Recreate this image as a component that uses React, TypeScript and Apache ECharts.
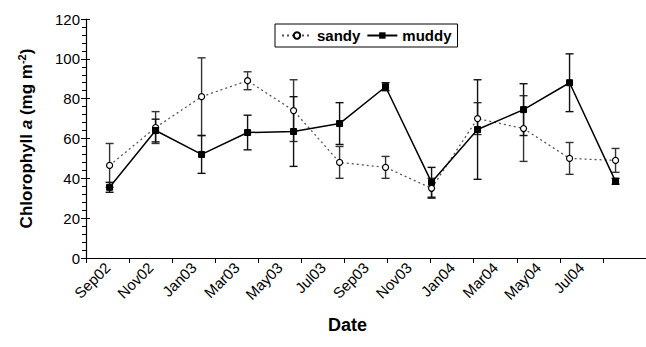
import React, { useEffect, useRef } from "react";
import * as echarts from "echarts";

const dates = ["Sep02", "Nov02", "Jan03", "Mar03", "May03", "Jul03", "Sep03", "Nov03", "Jan04", "Mar04", "May04", "Jul04"];
const sandyMean = [46.5, 65.5, 81, 89, 74, 48, 45.5, 35, 70, 65, 50, 49];
const sandyErr = [11, 8, 19.5, 4.5, 15.5, 8, 5.5, 5, 8, 16.5, 8, 6];
const muddyMean = [35.5, 64, 52, 63, 63.5, 67.5, 86, 38, 64.5, 74.5, 88, 38.5];
const muddyErr = [2.5, 5.7, 9.5, 8.7, 17.5, 10.5, 2, 7.5, 25, 13, 14.5, 1.5];
const yTicks = { min: 0, max: 120, interval: 20 };

const FONT = "'Liberation Sans', Arial, sans-serif";

export default function App() {
  const ref = useRef<HTMLDivElement>(null);
  useEffect(() => {
    if (!ref.current) return;
    const chart = echarts.init(ref.current, null, { renderer: "svg" });
    const sandyPts = sandyMean.map((v, i) => [i, v]);
    const muddyPts = muddyMean.map((v, i) => [i, v]);
    const sandyBars = sandyMean.map((v, i) => [i, v - sandyErr[i], v + sandyErr[i]]);
    const muddyBars = muddyMean.map((v, i) => [i, v - muddyErr[i], v + muddyErr[i]]);
    const errRender = (color: string) => (params: any, api: any) => {
      const x = api.value(0);
      const lo = api.coord([x, api.value(1)]);
      const hi = api.coord([x, api.value(2)]);
      const cw = 4;
      const style = { stroke: color, lineWidth: 1.4 };
      return {
        type: "group",
        children: [
          { type: "line", shape: { x1: hi[0], y1: hi[1], x2: lo[0], y2: lo[1] }, style },
          { type: "line", shape: { x1: hi[0] - cw, y1: hi[1], x2: hi[0] + cw, y2: hi[1] }, style },
          { type: "line", shape: { x1: lo[0] - cw, y1: lo[1], x2: lo[0] + cw, y2: lo[1] }, style },
        ],
      };
    };
    chart.setOption({
      animation: false,
      backgroundColor: "#fff",
      grid: { left: 86, right: -10, top: 19, bottom: 89, containLabel: false },
      legend: {
        data: ["sandy", "muddy"],
        left: 275,
        top: 24,
        borderColor: "#000",
        borderWidth: 1,
        borderRadius: 0,
        padding: [4, 6, 4, 6],
        itemGap: 6,
        itemWidth: 30,
        itemHeight: 8,
        textStyle: { fontFamily: FONT, fontWeight: "bold", fontSize: 15, color: "#000" },
      },
      xAxis: [
        {
          type: "category",
          data: [...dates, ""],
          boundaryGap: true,
          axisLine: { onZero: false, lineStyle: { color: "#000", width: 1.2 } },
          axisTick: { show: true, length: 5, lineStyle: { color: "#000" } },
          axisLabel: { rotate: 45, fontFamily: FONT, fontSize: 15, color: "#000", margin: 7, interval: 0 },
          splitLine: { show: false },
        },
        {
          type: "value",
          show: false,
          min: -0.513,
          max: 11.662,
          splitLine: { show: false },
        },
      ],
      yAxis: [
        {
          type: "value",
          min: yTicks.min,
          max: yTicks.max,
          interval: yTicks.interval,
          position: "left",
          axisLine: { show: true, onZero: false, lineStyle: { color: "#000", width: 1.2 } },
          axisTick: { show: true, length: 5, lineStyle: { color: "#000" } },
          minorTick: { show: true, splitNumber: 5, length: 4, lineStyle: { color: "#000" } },
          axisLabel: { fontFamily: FONT, fontSize: 15, color: "#000", margin: 6 },
          splitLine: { show: false },
          name: "{t|Chlorophyll }{i|a}{t| (mg m}{s|-2}{t|)}",
          nameLocation: "middle",
          nameGap: 50,
          nameTextStyle: {
            fontFamily: FONT,
            fontWeight: "bold",
            fontSize: 17,
            color: "#000",
            rich: {
              t: { fontFamily: FONT, fontWeight: "bold", fontSize: 17, color: "#000" },
              i: { fontFamily: FONT, fontWeight: "bold", fontStyle: "italic", fontSize: 17, color: "#000" },
              s: { fontFamily: FONT, fontWeight: "bold", fontSize: 11, color: "#000", padding: [0, 0, 9, 0] },
            },
          },
        },
        {
          type: "value",
          min: yTicks.min,
          max: yTicks.max,
          interval: yTicks.interval,
          position: "left",
          offset: 0,
          axisLine: { show: false, onZero: false },
          axisLabel: { show: false },
          axisTick: { show: true, inside: true, length: 4, lineStyle: { color: "#000" } },
          splitLine: { show: false },
        },
      ],
      graphic: [
        {
          type: "text",
          left: 328,
          top: 316,
          style: { text: "Date", fontFamily: FONT, fontWeight: "bold", fontSize: 18, fill: "#000" },
        },
      ],
      series: [
        {
          type: "custom",
          name: "sandyErr",
          xAxisIndex: 1,
          yAxisIndex: 0,
          clip: false,
          data: sandyBars,
          renderItem: errRender("#333"),
          z: 1,
        },
        {
          type: "custom",
          name: "muddyErr",
          xAxisIndex: 1,
          yAxisIndex: 0,
          clip: false,
          data: muddyBars,
          renderItem: errRender("#111"),
          z: 1,
        },
        {
          type: "line",
          name: "sandy",
          xAxisIndex: 1,
          yAxisIndex: 0,
          clip: false,
          data: sandyPts,
          symbol: "circle",
          symbolSize: 6,
          lineStyle: { color: "#555", width: 1.3, type: [2, 3] },
          itemStyle: { color: "#fff", borderColor: "#000", borderWidth: 1.2 },
          z: 3,
        },
        {
          type: "line",
          name: "muddy",
          xAxisIndex: 1,
          yAxisIndex: 0,
          clip: false,
          data: muddyPts,
          symbol: "rect",
          symbolSize: 6,
          lineStyle: { color: "#000", width: 1.5 },
          itemStyle: { color: "#000", borderColor: "#000" },
          z: 4,
        },
      ],
    });
    return () => chart.dispose();
  }, []);
  return <div ref={ref} style={{ position: "fixed", left: 0, top: 0, width: 646, height: 347 }} />;
}
